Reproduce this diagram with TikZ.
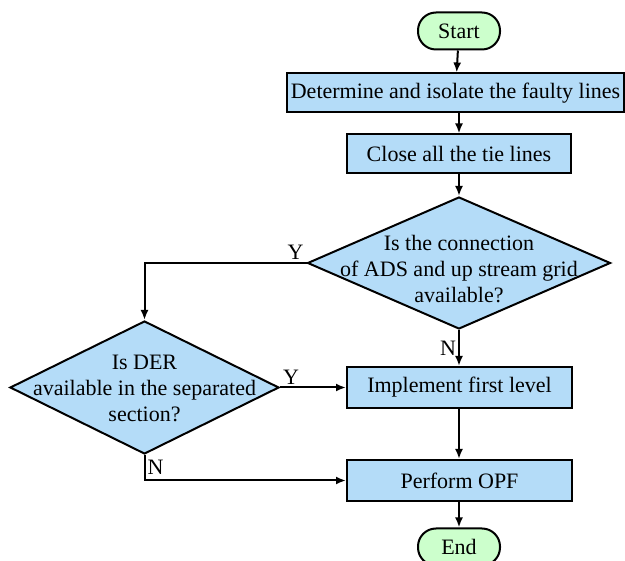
\documentclass[tikz,border=0pt]{standalone}
\usepackage{fontspec}
\setmainfont{Liberation Serif}
\usepackage{tikz}
\usetikzlibrary{shapes.geometric, arrows.meta}

\definecolor{boxblue}{RGB}{180,220,248}
\definecolor{termgreen}{RGB}{204,255,204}

\begin{document}
\begin{tikzpicture}[x=1pt, y=-1pt, line width=2pt,
    font=\fontsize{22}{26}\selectfont,
    terminal/.style={draw, fill=termgreen, rounded corners=18pt, minimum width=82pt, minimum height=37pt, inner sep=0pt},
    process/.style={draw, fill=boxblue, minimum height=39pt, inner sep=0pt},
    decision/.style={draw, diamond, fill=boxblue, inner sep=0pt},
    flow/.style={-{Latex[length=10pt, width=8pt]}},
    answer/.style={inner sep=2pt}]
    \useasboundingbox (0, 0) rectangle (625, 561);

    % draw start and end
    \node[terminal] (start) at (459, 31) {Start};
    \node[terminal] (stop) at (459, 547) {End};

    % draw process boxes
    \node[process, minimum width=337pt] (isolate) at (455.5, 93) {Determine and isolate the faulty lines};
    \node[process, minimum width=224pt] (tie) at (459, 154) {Close all the tie lines};
    \node[process, minimum width=225pt, minimum height=41pt] (first) at (459.5, 387.5) {Implement first level};
    \node[process, minimum width=225pt, minimum height=41pt] (opf) at (459.5, 480.5) {Perform OPF};

    % draw decision diamonds, text set on top
    \node[decision, minimum width=303pt, minimum height=132pt] (grid) at (459, 263) {};
    \node[align=center] (gridtext) at (459, 269) {Is the connection\\of ADS and up stream grid\\available?};
    \node[decision, minimum width=269pt, minimum height=133pt] (der) at (144.5, 387.5) {};
    \node[align=center] (dertext) at (144.5, 388) {Is DER\\available in the separated\\section?};

    % draw corner points
    \coordinate (gridturn) at (der.north |- grid.west);
    \coordinate (derturn) at (der.south |- opf.west);

    % draw connectors
    \draw[flow] (start) -- (isolate);
    \draw[flow] (isolate.south -| start) -- (tie);
    \draw[flow] (tie) -- (grid);
    \draw[flow] (grid.south) -- node[answer, left] {N} (first.north -| grid.south);
    \draw[flow] (grid.west) node[answer, above left] {Y} -- (gridturn) -- (der.north);
    \draw[flow] (der.east) node[answer, above right] {Y} -- (first.west);
    \draw[flow] (der.south) -- node[answer, right] {N} (derturn) -- (opf.west);
    \draw[flow] (first.south -| stop) -- (opf.north -| stop);
    \draw[flow] (opf.south -| stop) -- (stop);

\end{tikzpicture}
\end{document}
